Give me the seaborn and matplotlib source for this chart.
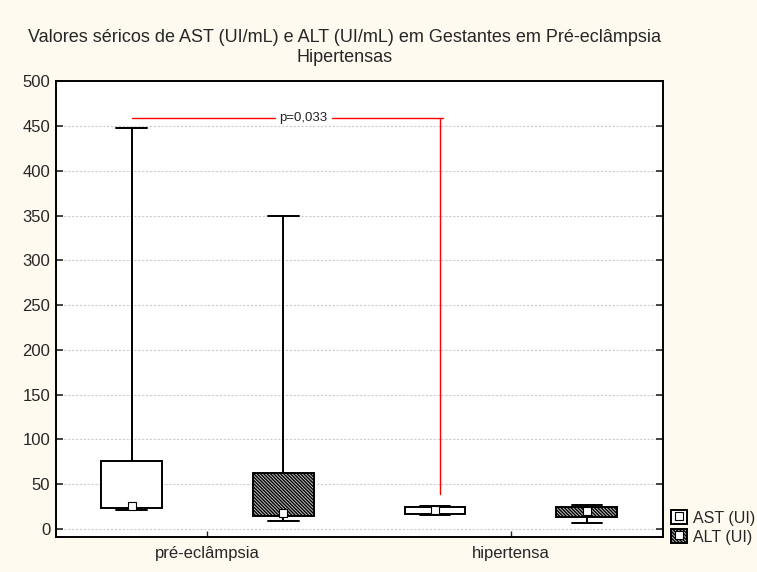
import matplotlib
matplotlib.use("Agg")
import matplotlib.pyplot as plt
import seaborn as sns
from matplotlib.patches import Patch
from matplotlib.lines import Line2D
from matplotlib.legend_handler import HandlerTuple

# grupos e series
grupos = ["pré-eclâmpsia", "hipertensa"]
series = ["AST (UI)", "ALT (UI)"]

# resumo: minimo, Q1, mediana, Q3, maximo
minimo = {"AST (UI)": [21.5, 15.6], "ALT (UI)": [9.3, 6.4]}
q1 = {"AST (UI)": [23.5, 16.7], "ALT (UI)": [14.5, 13.4]}
mediana = {"AST (UI)": [25.5, 21.2], "ALT (UI)": [18.0, 20.4]}
q3 = {"AST (UI)": [76.3, 24.9], "ALT (UI)": [62.5, 24.2]}
maximo = {"AST (UI)": [448.0, 26.0], "ALT (UI)": [349.5, 27.1]}

p_texto = "p=0,033"
p_altura = 458.6
p_base = 39

fundo = "#fefaef"
sns.set_style("white")
plt.rcParams["font.family"] = ["Liberation Sans", "DejaVu Sans"]
plt.rcParams["hatch.linewidth"] = 1.0

fig = plt.figure(figsize=(7.57, 5.72), dpi=100, facecolor=fundo)
ax = fig.add_axes([0.0736, 0.0606, 0.8018, 0.7983])
ax.set_facecolor("white")

deslocamento = {"AST (UI)": -0.25, "ALT (UI)": 0.25}
hach = "\\\\\\\\\\\\\\\\\\\\"
hachura = {"AST (UI)": None, "ALT (UI)": hach}

for s in series:
    stats = []
    pos = []
    for i, g in enumerate(grupos):
        stats.append({"whislo": minimo[s][i], "q1": q1[s][i], "med": mediana[s][i],
                      "q3": q3[s][i], "whishi": maximo[s][i], "fliers": [], "label": g})
        pos.append(i + deslocamento[s])
    bp = ax.bxp(stats, positions=pos, widths=0.2, patch_artist=True, showfliers=False,
                capwidths=0.1,
                boxprops=dict(facecolor="white", edgecolor="black", linewidth=1.4),
                whiskerprops=dict(color="black", linewidth=1.4),
                capprops=dict(color="black", linewidth=1.4),
                medianprops=dict(linewidth=0), manage_ticks=False)
    for caixa in bp["boxes"]:
        if hachura[s]:
            caixa.set_hatch(hachura[s])
            caixa.set_facecolor("#c4c4c4")
    ax.plot(pos, mediana[s], linestyle="none", marker="s", markersize=6,
            markerfacecolor="white", markeredgecolor="black", markeredgewidth=0.8, zorder=5)

# linha de significancia
ax.plot([-0.25, 0.222], [p_altura, p_altura], color="red", linewidth=1)
ax.plot([0.41, 0.776], [p_altura, p_altura], color="red", linewidth=1)
ax.plot([0.765, 0.765], [p_altura, p_base], color="red", linewidth=1)
ax.text(0.315, p_altura, p_texto, ha="center", va="center", fontsize=9.5, color="#222222")

ax.set_xlim(-0.5, 1.5)
ax.set_ylim(-9.3, 500.6)
ax.set_xticks([0, 1])
ax.set_xticklabels(grupos, fontsize=12)
ax.set_yticks(range(0, 501, 50))
ax.tick_params(axis="y", labelsize=12, direction="in", length=5, right=True, left=True, width=1.2, pad=4)
ax.tick_params(axis="x", direction="in", length=4, bottom=True, width=1, pad=6)
ax.yaxis.grid(True, linestyle=(0, (2, 1.5)), color="#cccccc", linewidth=0.8)
ax.set_axisbelow(True)
for lado in ax.spines.values():
    lado.set_color("black")
    lado.set_linewidth(1.4)

fig.text(0.455, 0.917, "Valores séricos de AST (UI/mL) e ALT (UI/mL) em Gestantes em Pré-eclâmpsia\nHipertensas",
         ha="center", va="center", fontsize=13, linespacing=1.3)

# legenda
h_ast = (Patch(facecolor="white", edgecolor="black", linewidth=1.4),
         Line2D([], [], linestyle="none", marker="s", markersize=6, markerfacecolor="white",
                markeredgecolor="black", markeredgewidth=0.8))
h_alt = (Patch(facecolor="#c4c4c4", edgecolor="black", hatch=hach, linewidth=1.4),
         Line2D([], [], linestyle="none", marker="s", markersize=6, markerfacecolor="white",
                markeredgecolor="black", markeredgewidth=0.8))
fig.legend([h_ast, h_alt], series, handler_map={tuple: HandlerTuple(ndivide=1, pad=0)},
           loc="lower left", bbox_to_anchor=(0.886, 0.048), frameon=False, fontsize=11.5,
           handlelength=1.0, handleheight=1.0, handletextpad=0.4, labelspacing=0.2,
           borderaxespad=0, borderpad=0)

fig.savefig("out.png", dpi=100, facecolor=fundo)
